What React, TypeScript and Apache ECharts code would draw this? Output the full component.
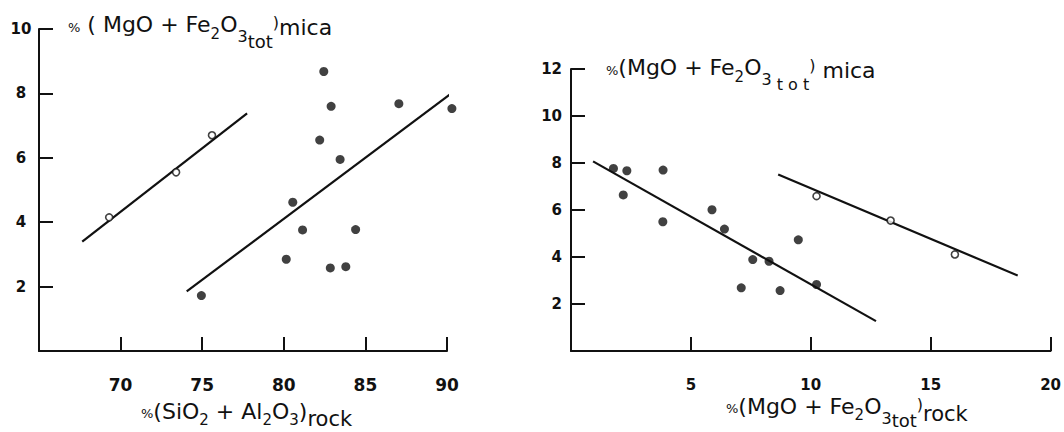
import React, { useEffect, useRef } from "react";
import * as echarts from "echarts";

// ---- Left panel: mica vs rock (SiO2 + Al2O3)
const leftOpenX = [69.3, 73.4, 75.6];
const leftOpenY = [4.15, 5.55, 6.7];
const leftFilledX = [82.45, 82.9, 87.05, 90.3, 82.2, 83.45, 80.55, 81.15, 84.4, 80.15, 82.85, 83.8, 74.95];
const leftFilledY = [8.68, 7.6, 7.68, 7.53, 6.55, 5.95, 4.62, 3.76, 3.77, 2.85, 2.58, 2.62, 1.72];
const leftOpenFitX = [67.65, 77.75];
const leftOpenFitY = [3.4, 7.38];
const leftFilledFitX = [74.05, 91.5];
const leftFilledFitY = [1.85, 8.47];

// ---- Right panel: mica vs rock (MgO + Fe2O3 tot)
const rightFilledX = [1.77, 2.33, 2.18, 3.84, 3.83, 5.88, 6.4, 9.48, 7.58, 8.26, 7.1, 8.72, 10.24];
const rightFilledY = [7.77, 7.67, 6.64, 7.7, 5.5, 6.01, 5.19, 4.73, 3.89, 3.82, 2.69, 2.57, 2.83];
const rightOpenX = [10.24, 13.33, 16.01];
const rightOpenY = [6.59, 5.55, 4.11];
const rightFilledFitX = [0.92, 12.72];
const rightFilledFitY = [8.07, 1.27];
const rightOpenFitX = [8.64, 18.63];
const rightOpenFitY = [7.51, 3.21];

// ---- Axis ranges / ticks
const leftXRange = [65, 90, 5];
const leftYRange = [0, 10, 2];
const rightXRange = [0, 20, 5];
const rightYRange = [0, 12, 2];

// ---- Axis titles
const leftYTitle = "{pc|%} {n|( MgO + Fe}{s2|2}{n|O}{s3|3}{t|tot}{p|)}{m|mica}";
const leftXTitle = "{pc|%}{n|(SiO}{s2|2}{n| + Al}{s2|2}{n|O}{s2|3}{n|)}{r|rock}";
const rightYTitle = "{pc|%}{n|(MgO + Fe}{s2|2}{n|O}{s3|3}{t2| t o t}{p|)}{m| mica}";
const rightXTitle = "{pc|%}{n|(MgO + Fe}{s2|2}{n|O}{s3|3}{tb|tot}{p|)}{r|rock}";

const INK = "#111";
const FONT = "DejaVu Sans";

const zip = (xs: number[], ys: number[]) => xs.map((x, i) => [x, ys[i]]);

const rich = {
  pc: { fontSize: 13, fontFamily: FONT, fill: INK, padding: [5, 0, 0, 0] },
  n: { fontSize: 22, fontFamily: FONT, fill: INK },
  s2: { fontSize: 15, fontFamily: FONT, fill: INK, padding: [18, 0, 0, 0] },
  s3: { fontSize: 16, fontFamily: FONT, fill: INK, padding: [24, 0, 0, 0] },
  t: { fontSize: 18, fontFamily: FONT, fill: INK, padding: [34, 0, 0, 0] },
  tb: { fontSize: 18, fontFamily: FONT, fill: INK, padding: [28, 0, 0, 0] },
  t2: { fontSize: 16, fontFamily: FONT, fill: INK, padding: [34, 0, 0, 0] },
  p: { fontSize: 16, fontFamily: FONT, fill: INK, padding: [0, 0, 4, 0] },
  m: { fontSize: 22, fontFamily: FONT, fill: INK, padding: [6, 0, 0, 0] },
  r: { fontSize: 21, fontFamily: FONT, fill: INK, padding: [16, 0, 0, 0] },
};

function title(text: string, x: number, y: number) {
  return {
    type: "text",
    x,
    y,
    silent: true,
    style: {
      text,
      fill: INK,
      fontSize: 22,
      fontFamily: FONT,
      textAlign: "left",
      textVerticalAlign: "middle",
      rich,
    },
  };
}

function axis(range: number[], gridIndex: number, labelSize: number, extra: any = {}) {
  return {
    type: "value",
    gridIndex,
    min: range[0],
    max: range[1],
    interval: range[2],
    splitLine: { show: false },
    axisLine: { show: true, onZero: false, lineStyle: { color: INK, width: 2 } },
    axisTick: { show: true, inside: true, length: 14, lineStyle: { color: INK, width: 2 } },
    axisLabel: {
      showMinLabel: false,
      color: INK,
      fontFamily: FONT,
      fontWeight: "bold",
      fontSize: labelSize,
      ...(extra.axisLabel || {}),
    },
  };
}

function filled(xs: number[], ys: number[], idx: number) {
  return {
    type: "scatter",
    xAxisIndex: idx,
    yAxisIndex: idx,
    data: zip(xs, ys),
    symbol: "circle",
    symbolSize: 9,
    clip: false,
    z: 4,
    itemStyle: { color: INK },
  };
}

function open(xs: number[], ys: number[], idx: number) {
  return {
    type: "scatter",
    xAxisIndex: idx,
    yAxisIndex: idx,
    data: zip(xs, ys),
    symbol: "circle",
    symbolSize: 7,
    clip: false,
    z: 4,
    itemStyle: { color: "#fff", borderColor: INK, borderWidth: 1.6 },
  };
}

function fit(xs: number[], ys: number[], idx: number) {
  return {
    type: "line",
    xAxisIndex: idx,
    yAxisIndex: idx,
    data: zip(xs, ys),
    symbol: "none",
    clip: false,
    z: 3,
    lineStyle: { color: INK, width: 2.2 },
  };
}

export default function App() {
  const ref = useRef<HTMLDivElement>(null);
  useEffect(() => {
    if (!ref.current) return;
    const chart = echarts.init(ref.current, undefined, { renderer: "svg" });
    chart.setOption({
      animation: false,
      backgroundColor: "#fff",
      grid: [
        { left: 39, top: 29, width: 408, height: 322 },
        { left: 571, top: 69, width: 491, height: 282 },
      ],
      xAxis: [
        axis(leftXRange, 0, 17, { axisLabel: { margin: 25 } }),
        axis(rightXRange, 1, 15, { axisLabel: { margin: 26 } }),
      ],
      yAxis: [
        axis(leftYRange, 0, 15, { axisLabel: { margin: 18, align: "center" } }),
        axis(rightYRange, 1, 15, { axisLabel: { margin: 9 } }),
      ],
      series: [
        fit(leftOpenFitX, leftOpenFitY, 0),
        fit(leftFilledFitX, leftFilledFitY, 0),
        open(leftOpenX, leftOpenY, 0),
        filled(leftFilledX, leftFilledY, 0),
        fit(rightFilledFitX, rightFilledFitY, 1),
        fit(rightOpenFitX, rightOpenFitY, 1),
        filled(rightFilledX, rightFilledY, 1),
        open(rightOpenX, rightOpenY, 1),
      ],
      graphic: [
        title(leftYTitle, 68, 24.5),
        title(leftXTitle, 141, 411),
        title(rightYTitle, 606, 67.5),
        title(rightXTitle, 726, 406),
      ],
    });
    return () => chart.dispose();
  }, []);
  return (
    <div
      ref={ref}
      style={{ position: "fixed", left: 0, top: 0, width: 1064, height: 432, background: "#fff" }}
    />
  );
}
